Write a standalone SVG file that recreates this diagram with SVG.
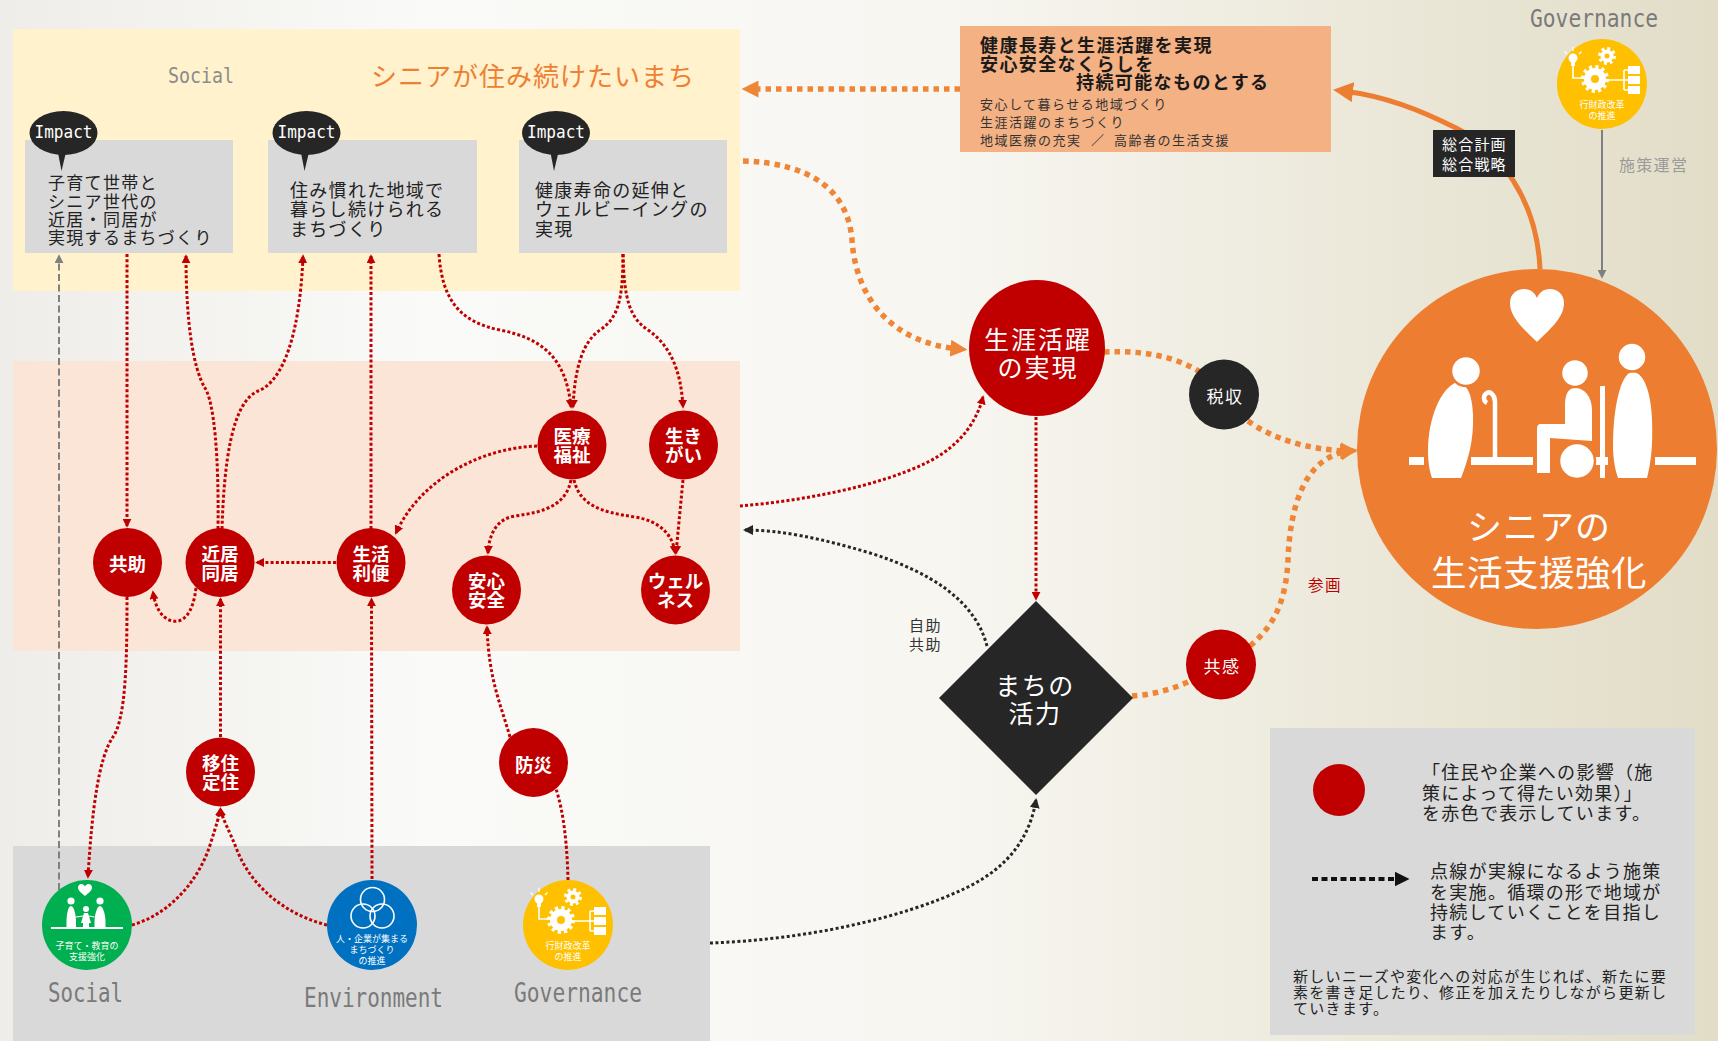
<svg xmlns="http://www.w3.org/2000/svg" width="1718" height="1041" viewBox="0 0 1718 1041">
<defs>
  <style>
    .jp { font-family: "Noto Sans CJK JP", "Noto Sans", sans-serif; }
    .mono { font-family: "DejaVu Sans Mono", monospace; }
    .red-dot { fill: none; stroke: #c00000; stroke-width: 3; stroke-dasharray: 3 2.2; }
    .org-dot { fill: none; stroke: #ef8637; stroke-width: 5.5; stroke-dasharray: 5.5 5; }
    .blk-dot { fill: none; stroke: #262626; stroke-width: 3; stroke-dasharray: 3 2.5; }
    .gray-dash { fill: none; stroke: #808080; stroke-width: 2; stroke-dasharray: 7 3.5; }
    .red-node { fill: #c00000; }
    .dark-node { fill: #262626; }
    .lbl { font-family: "Noto Sans CJK JP", "Noto Sans", sans-serif; fill: #fff; text-anchor: middle; }
    .box { fill: #d9d9d9; }
    .bubble { fill: #262626; }
    .imp { font-family: "DejaVu Sans Mono", monospace; fill: #fff; font-size: 17.5px; text-anchor: middle; }
    .itext { font-family: "Noto Sans CJK JP", "Noto Sans", sans-serif; fill: #222; letter-spacing: 1.3px; }
    .sec { font-family: "DejaVu Sans Mono", monospace; fill: #7a7a7a; text-anchor: middle; }
    .badge-text { font-family: "Noto Sans CJK JP", "Noto Sans", sans-serif; fill: #fff; font-size: 9px; text-anchor: middle; }
    .leg { font-family: "Noto Sans CJK JP", "Noto Sans", sans-serif; fill: #222; }
  </style>

  <linearGradient id="bg" x1="0" y1="0" x2="1" y2="0">
    <stop offset="0" stop-color="#eeede9"/>
    <stop offset="0.25" stop-color="#fafaf8"/>
    <stop offset="0.55" stop-color="#f7f6f1"/>
    <stop offset="1" stop-color="#e2ddc7"/>
  </linearGradient>

  <marker id="ah-red" viewBox="0 0 10 10" refX="8" refY="5" markerWidth="9" markerHeight="9" markerUnits="userSpaceOnUse" orient="auto">
    <path d="M0,0 L10,5 L0,10 z" fill="#c00000"/>
  </marker>
  <marker id="ah-blk" viewBox="0 0 10 10" refX="8" refY="5" markerWidth="10" markerHeight="10" markerUnits="userSpaceOnUse" orient="auto">
    <path d="M0,0 L10,5 L0,10 z" fill="#262626"/>
  </marker>
  <marker id="ah-gray" viewBox="0 0 10 10" refX="8" refY="5" markerWidth="9" markerHeight="9" markerUnits="userSpaceOnUse" orient="auto">
    <path d="M0,0 L10,5 L0,10 z" fill="#808080"/>
  </marker>
  <marker id="ah-org" viewBox="0 0 10 10" refX="5" refY="5" markerWidth="17" markerHeight="17" markerUnits="userSpaceOnUse" orient="auto">
    <path d="M0,0 L10,5 L0,10 z" fill="#ef8637"/>
  </marker>
  <marker id="ah-org-solid" viewBox="0 0 10 10" refX="5" refY="5" markerWidth="20" markerHeight="20" markerUnits="userSpaceOnUse" orient="auto">
    <path d="M0,0 L10,5 L0,10 z" fill="#ed7d31"/>
  </marker>
  <marker id="ah-legend" viewBox="0 0 10 10" refX="5" refY="5" markerWidth="15" markerHeight="15" markerUnits="userSpaceOnUse" orient="auto">
    <path d="M0,0 L10,5 L0,10 z" fill="#111"/>
  </marker>

  <!-- governance badge: bulb, gears and org chart on a yellow disc -->
  <g id="gov-badge">
    <circle r="45" fill="#ffc000"/>
    <g fill="#fff">
      <circle cx="-29" cy="-26" r="4.5"/>
      <rect x="-31" y="-23" width="4" height="5"/>
    </g>
    <g stroke="#fff" stroke-width="1.3" fill="none">
      <path d="M-29,-33 L-29,-37 M-35,-30 L-37.5,-32.5 M-23,-30 L-20.5,-32.5"/>
      <path d="M-29,-18 L-29,-6 L-18,-6" stroke-width="1.6"/>
      <path d="M4,-4 L22,-4 M22,-14 L22,6 M22,-14 L26,-14 M22,-4 L26,-4 M22,6 L26,6" stroke-width="1.6"/>
    </g>
    <circle cx="-7" cy="-5" r="7.5" fill="none" stroke="#fff" stroke-width="7"/>
    <circle cx="-7" cy="-5" r="12" fill="none" stroke="#fff" stroke-width="4" stroke-dasharray="3.14 3.14"/>
    <circle cx="5" cy="-28" r="4.5" fill="none" stroke="#fff" stroke-width="4"/>
    <circle cx="5" cy="-28" r="7.5" fill="none" stroke="#fff" stroke-width="3" stroke-dasharray="2.95 2.95"/>
    <g fill="#fff">
      <rect x="26" y="-18" width="12" height="8"/>
      <rect x="26" y="-8" width="12" height="8"/>
      <rect x="26" y="2" width="12" height="8"/>
    </g>
    <text class="badge-text" x="0" y="24">行財政改革</text>
    <text class="badge-text" x="0" y="35">の推進</text>
  </g>
</defs>

<!-- background -->
<rect width="1718" height="1041" fill="url(#bg)"/>

<!-- layer bands -->
<g id="bands">
  <rect x="13" y="29" width="727" height="262" fill="#fff2cc"/>
  <rect x="13" y="361" width="727" height="290" fill="#fbe5d6"/>
  <rect x="13" y="846" width="697" height="195" fill="#d9d9d9"/>
</g>

<!-- section headings -->
<g id="headings">
  <text class="mono" x="201" y="83" font-size="22" fill="#8c8c8c" text-anchor="middle" textLength="66" lengthAdjust="spacingAndGlyphs">Social</text>
  <text class="jp" x="371" y="86" font-size="26" letter-spacing="1" fill="#ee8033">シニアが住み続けたいまち</text>
  <text class="sec" x="85.5" y="1002" font-size="27" textLength="75" lengthAdjust="spacingAndGlyphs">Social</text>
  <text class="sec" x="373.5" y="1007" font-size="27" textLength="139" lengthAdjust="spacingAndGlyphs">Environment</text>
  <text class="sec" x="578" y="1002" font-size="27" textLength="128" lengthAdjust="spacingAndGlyphs">Governance</text>
  <text class="sec" x="1594" y="27" font-size="25" textLength="128" lengthAdjust="spacingAndGlyphs">Governance</text>
</g>

<!-- connectors -->
<g id="connectors">
  <!-- red: effect links -->
  <path class="red-dot" d="M127,254 L127,526" marker-end="url(#ah-red)"/>
  <path class="red-dot" d="M218,529 C219,455 214,402 205,388 C193,368 186,322 186,256" marker-end="url(#ah-red)"/>
  <path class="red-dot" d="M222,529 C224,462 232,402 258,391 C284,381 300,332 303,256" marker-end="url(#ah-red)"/>
  <path class="red-dot" d="M371,529 L371,256" marker-end="url(#ah-red)"/>
  <path class="red-dot" d="M439,254 C442,300 460,322 500,330 C540,338 566,356 571,407" marker-end="url(#ah-red)"/>
  <path class="red-dot" d="M623,254 C623,300 618,318 600,330 C583,342 575,366 573,407" marker-end="url(#ah-red)"/>
  <path class="red-dot" d="M623,254 C624,300 630,318 648,330 C670,345 681,370 683,407" marker-end="url(#ah-red)"/>
  <path class="red-dot" d="M537,446 C480,448 420,480 396,533" marker-end="url(#ah-red)"/>
  <path class="red-dot" d="M571,480 C566,505 545,512 515,516 C496,519 489,535 488,553" marker-end="url(#ah-red)"/>
  <path class="red-dot" d="M574,480 C580,505 600,512 635,517 C660,521 673,535 675,553" marker-end="url(#ah-red)"/>
  <path class="red-dot" d="M683,480 L676,553" marker-end="url(#ah-red)"/>
  <path class="red-dot" d="M336,562.5 L257,562.5" marker-end="url(#ah-red)"/>
  <path class="red-dot" d="M196,588 C193,614 183,623 173,621 C161,619 155,606 153,592" marker-end="url(#ah-red)"/>
  <path class="red-dot" d="M127,597 C127,660 126,718 113,737 C99,757 92,808 88,877" marker-end="url(#ah-red)"/>
  <path class="red-dot" d="M220.5,737 L220.5,599" marker-end="url(#ah-red)"/>
  <path class="red-dot" d="M132,925 C168,915 199,882 211,842 C216,826 219.5,815 220.5,809" marker-end="url(#ah-red)"/>
  <path class="red-dot" d="M327,925 C287,915 252,888 237,850 C230,832 222,818 220.5,809" marker-end="url(#ah-red)"/>
  <path class="red-dot" d="M372,879 L371.5,599" marker-end="url(#ah-red)"/>
  <path class="red-dot" d="M568,880 C567,840 563,810 556,789"/>
  <path class="red-dot" d="M510,737 C500,702 489,680 487,627" marker-end="url(#ah-red)"/>
  <path class="red-dot" d="M740,506 C800,501 878,487 928,462 C958,447 976,424 983,397" marker-end="url(#ah-red)"/>
  <path class="red-dot" d="M1036,417 L1036,599" marker-end="url(#ah-red)"/>

  <!-- black: self-help / mutual-help loop -->
  <path class="blk-dot" d="M987,646 C975,600 930,572 870,553 C820,538 780,530 745,530" marker-end="url(#ah-blk)"/>
  <path class="blk-dot" d="M710,943 C800,940 900,920 968,887 C1010,866 1030,836 1036,800" marker-end="url(#ah-blk)"/>

  <!-- grey -->
  <path class="gray-dash" d="M59,890 L59,256" marker-end="url(#ah-gray)"/>
  <path d="M1602,130 L1602,277" fill="none" stroke="#808080" stroke-width="2" marker-end="url(#ah-gray)"/>

  <!-- orange: senior support cycle -->
  <path class="org-dot" d="M960,89 L750,89" marker-end="url(#ah-org)"/>
  <path class="org-dot" d="M743,161 C810,163 848,190 852,240 C856,300 893,343 959,349" marker-end="url(#ah-org)"/>
  <path class="org-dot" d="M1104,352 C1140,350 1175,356 1200,372"/>
  <path class="org-dot" d="M1248,421 C1270,437 1305,450 1349,451" marker-end="url(#ah-org)"/>
  <path class="org-dot" d="M1132,696 C1150,695 1170,690 1188,682"/>
  <path class="org-dot" d="M1250,646 C1275,625 1286,600 1288,560 C1290,505 1305,457 1349,451" marker-end="url(#ah-org)"/>
  <path d="M1540,269 C1537,200 1500,150 1456,128 C1420,110 1385,96 1343,91" fill="none" stroke="#ed7d31" stroke-width="5" marker-end="url(#ah-org-solid)"/>
</g>

<!-- nodes -->
<g id="nodes">
  <g id="impact-1">
    <rect class="box" x="25" y="140" width="208" height="113"/>
    <ellipse class="bubble" cx="63.5" cy="133" rx="34" ry="22"/>
    <polygon class="bubble" points="57.5,150 66.5,150 61.5,171"/>
    <text class="imp" x="63.5" y="138" textLength="58" lengthAdjust="spacingAndGlyphs">Impact</text>
    <text class="itext" style="font-size:17px">
      <tspan x="48" y="189">子育て世帯と</tspan>
      <tspan x="48" y="207.5">シニア世代の</tspan>
      <tspan x="48" y="226">近居・同居が</tspan>
      <tspan x="48" y="244">実現するまちづくり</tspan>
    </text>
  </g>
  <g id="impact-2">
    <rect class="box" x="268" y="140" width="209" height="113"/>
    <ellipse class="bubble" cx="306.5" cy="133" rx="34" ry="22"/>
    <polygon class="bubble" points="300.5,150 309.5,150 304.5,171"/>
    <text class="imp" x="306.5" y="138" textLength="58" lengthAdjust="spacingAndGlyphs">Impact</text>
    <text class="itext" style="font-size:18px">
      <tspan x="290" y="196.5">住み慣れた地域で</tspan>
      <tspan x="290" y="216">暮らし続けられる</tspan>
      <tspan x="290" y="235.5">まちづくり</tspan>
    </text>
  </g>
  <g id="impact-3">
    <rect class="box" x="519" y="140" width="208" height="113"/>
    <ellipse class="bubble" cx="556" cy="133" rx="34" ry="22"/>
    <polygon class="bubble" points="550,150 559,150 554,171"/>
    <text class="imp" x="556" y="138" textLength="58" lengthAdjust="spacingAndGlyphs">Impact</text>
    <text class="itext" style="font-size:18px">
      <tspan x="535" y="196.5">健康寿命の延伸と</tspan>
      <tspan x="535" y="216">ウェルビーイングの</tspan>
      <tspan x="535" y="235.5">実現</tspan>
    </text>
  </g>

  <g id="kyojo">
    <circle class="red-node" cx="127.5" cy="562.5" r="34.5"/>
    <text class="lbl" x="127.5" y="570.5" font-size="18.5" font-weight="bold">共助</text>
  </g>
  <g id="kinkyo">
    <circle class="red-node" cx="220" cy="562.5" r="34.5"/>
    <text class="lbl" font-size="18.5" font-weight="bold"><tspan x="220" y="560.5">近居</tspan><tspan x="220" y="579.5">同居</tspan></text>
  </g>
  <g id="riben">
    <circle class="red-node" cx="371" cy="562.5" r="34.5"/>
    <text class="lbl" font-size="18.5" font-weight="bold"><tspan x="371" y="560.5">生活</tspan><tspan x="371" y="579.5">利便</tspan></text>
  </g>
  <g id="iryo">
    <circle class="red-node" cx="572" cy="445" r="34.5"/>
    <text class="lbl" font-size="18.5" font-weight="bold"><tspan x="572" y="443">医療</tspan><tspan x="572" y="462">福祉</tspan></text>
  </g>
  <g id="ikigai">
    <circle class="red-node" cx="683.5" cy="445" r="34.5"/>
    <text class="lbl" font-size="18.5" font-weight="bold"><tspan x="683.5" y="443">生き</tspan><tspan x="683.5" y="462">がい</tspan></text>
  </g>
  <g id="anshin">
    <circle class="red-node" cx="486.5" cy="590" r="34.5"/>
    <text class="lbl" font-size="18.5" font-weight="bold"><tspan x="486.5" y="588">安心</tspan><tspan x="486.5" y="607">安全</tspan></text>
  </g>
  <g id="wellness">
    <circle class="red-node" cx="675.5" cy="590" r="34.5"/>
    <text class="lbl" font-size="18.5" font-weight="bold"><tspan x="675.5" y="588">ウェル</tspan><tspan x="675.5" y="607">ネス</tspan></text>
  </g>
  <g id="iju">
    <circle class="red-node" cx="220.5" cy="772" r="34.5"/>
    <text class="lbl" font-size="18.5" font-weight="bold"><tspan x="220.5" y="770">移住</tspan><tspan x="220.5" y="789">定住</tspan></text>
  </g>
  <g id="bosai">
    <circle class="red-node" cx="533.5" cy="762.5" r="34.5"/>
    <text class="lbl" x="533.5" y="771.5" font-size="18.5" font-weight="bold">防災</text>
  </g>

  <g id="social-policy" transform="translate(87,925)">
    <circle r="45" fill="#00b050"/>
    <g fill="#fff">
      <path d="M-2,-29 C-5,-32 -9,-34 -9,-37.5 C-9,-40 -7,-41 -5.5,-41 C-4,-41 -2.7,-40 -2,-38.5 C-1.3,-40 0,-41 1.5,-41 C3,-41 5,-40 5,-37.5 C5,-34 1,-32 -2,-29 Z"/>
      <circle cx="-16" cy="-24" r="3.6"/>
      <path d="M-16,-19 C-19,-19 -20.5,-10 -20.5,-3 L-20.5,3 L-11,3 L-11,-3 C-11,-10 -13,-19 -16,-19 Z"/>
      <circle cx="13" cy="-24" r="3.6"/>
      <path d="M13,-19 C10,-19 7.5,-10 7.5,-3 L7.5,3 L18.5,3 L18.5,-3 C18.5,-10 16,-19 13,-19 Z"/>
      <circle cx="-1" cy="-16" r="3"/>
      <path d="M-3,-12 L1,-12 L4,-2 L2,-2 L2,3 L-4,3 L-4,-2 L-6,-2 Z"/>
      <rect x="-36" y="2" width="72" height="2"/>
    </g>
    <path d="M-11,-8 L-4,-9 M2,-9 L7.5,-8" stroke="#fff" stroke-width="1.2"/>
    <text class="badge-text" x="0" y="24">子育て・教育の</text>
    <text class="badge-text" x="0" y="35">支援強化</text>
  </g>
  <g id="environment-policy" transform="translate(372,925)">
    <circle r="45" fill="#0070c0"/>
    <g fill="none" stroke="#fff" stroke-width="1.6">
      <circle cx="0.5" cy="-25.5" r="12"/>
      <circle cx="-9" cy="-9" r="12"/>
      <circle cx="10" cy="-9" r="12"/>
    </g>
    <text class="badge-text" x="0" y="17">人・企業が集まる</text>
    <text class="badge-text" x="0" y="28">まちづくり</text>
    <text class="badge-text" x="0" y="39">の推進</text>
  </g>
  <g id="governance-policy">
    <use href="#gov-badge" x="568" y="925"/>
  </g>
  <g id="governance-top">
    <use href="#gov-badge" x="1602" y="84"/>
  </g>

  <g id="vision">
    <rect x="960" y="26" width="371" height="126" fill="#f4b183"/>
    <g class="jp" fill="#1a1a1a" font-size="18" letter-spacing="1.4" font-weight="bold">
      <text x="980" y="51.5">健康長寿と生涯活躍を実現</text>
      <text x="980" y="70.5">安心安全なくらしを</text>
      <text x="1076" y="89">持続可能なものとする</text>
    </g>
    <g class="jp" fill="#333" font-size="13" letter-spacing="1.5">
      <text x="980" y="108.5">安心して暮らせる地域づくり</text>
      <text x="980" y="126.5">生涯活躍のまちづくり</text>
      <text x="980" y="144.5">地域医療の充実<tspan x="1091">／</tspan><tspan x="1114">高齢者の生活支援</tspan></text>
    </g>
  </g>

  <g id="plan-label">
    <rect x="1433" y="130" width="82" height="47" fill="#262626"/>
    <text class="jp" fill="#fff" font-size="15" letter-spacing="1.2"><tspan x="1442" y="150">総合計画</tspan><tspan x="1442" y="170">総合戦略</tspan></text>
  </g>
  <text id="ops-label" class="jp" x="1619" y="171" font-size="16" letter-spacing="1.3" fill="#9a9a9a">施策運営</text>

  <g id="shogai">
    <circle class="red-node" cx="1037" cy="348" r="68"/>
    <text class="lbl" font-size="25" letter-spacing="2"><tspan x="1038" y="349">生涯活躍</tspan><tspan x="1038" y="377">の実現</tspan></text>
  </g>
  <g id="zeishu">
    <circle class="dark-node" cx="1224" cy="394.5" r="35"/>
    <text class="lbl" x="1225" y="402.5" font-size="17" letter-spacing="1.5">税収</text>
  </g>
  <g id="kyokan">
    <circle class="red-node" cx="1221" cy="664.5" r="35"/>
    <text class="lbl" x="1222" y="672.5" font-size="17" letter-spacing="1.5">共感</text>
  </g>
  <g id="machi">
    <polygon class="dark-node" points="1036,601 1133,698 1036,795 939,698"/>
    <text class="lbl" font-size="25" letter-spacing="1.5"><tspan x="1035" y="695">まちの</tspan><tspan x="1035" y="723">活力</tspan></text>
  </g>
  <text class="jp" fill="#333" font-size="15" letter-spacing="1.5"><tspan x="909" y="631">自助</tspan><tspan x="909" y="650">共助</tspan></text>
  <text class="jp" x="1308" y="591" fill="#c00000" font-size="15.5" letter-spacing="1.5">参画</text>

  <g id="senior-support">
    <circle cx="1537" cy="449" r="180" fill="#ed7d31"/>
    <g fill="#fff">
      <path d="M1537,342 C1525,330 1510,318 1510,303 C1510,293 1518,289 1524,289 C1531,289 1535,293 1537,298 C1539,293 1543,289 1550,289 C1556,289 1564,293 1564,303 C1564,318 1549,330 1537,342 Z"/>
      <rect x="1409" y="457" width="15" height="8"/>
      <rect x="1471" y="457" width="62" height="8"/>
      <rect x="1595" y="457" width="13" height="8"/>
      <rect x="1655" y="457" width="41" height="8"/>
      <path d="M1457,382 C1440,388 1428,420 1428,450 C1428,465 1430,472 1432,478 L1461,478 C1468,460 1474,440 1473,415 C1472,395 1468,384 1457,382 Z"/>
      <path d="M1632,372 C1620,374 1613,410 1613,445 C1613,462 1616,472 1618,478 L1647,478 C1651,462 1653,445 1652,420 C1651,395 1645,372 1632,372 Z"/>
      <path d="M1575,388 C1568,388 1565,395 1565,405 L1565,424 L1541,424 C1538,424 1537,426 1537,429 L1537,473 L1550,473 L1550,438 L1592,441 L1592,410 C1592,396 1584,388 1575,388 Z"/>
      <rect x="1600" y="386" width="5" height="92"/>
    </g>
    <g fill="#fff" stroke="#ed7d31" stroke-width="2.5">
      <circle cx="1466" cy="371" r="15"/>
      <circle cx="1575" cy="373" r="14"/>
      <circle cx="1632" cy="357" r="14.5"/>
      <circle cx="1577" cy="461" r="18"/>
    </g>
    <path d="M1495,457 L1495,402 C1495,395 1490,391 1487,393 C1483,395 1483,401 1487,403" fill="none" stroke="#fff" stroke-width="4.5"/>
    <text class="lbl" x="1539" y="540" font-size="35" letter-spacing="1">シニアの</text>
    <text class="lbl" x="1539" y="586" font-size="35.5" letter-spacing="0.5">生活支援強化</text>
  </g>
</g>

<!-- legend -->
<g id="legend">
  <rect x="1270" y="728" width="425" height="307" fill="#d9d9d9"/>
  <circle cx="1339" cy="790" r="26" fill="#c00000"/>
  <text class="leg" font-size="18" letter-spacing="1.3"><tspan x="1422" y="779">「住民や企業への影響（施</tspan><tspan x="1422" y="799.5">策によって得たい効果）」</tspan><tspan x="1422" y="820">を赤色で表示しています。</tspan></text>
  <path d="M1312,879 L1402,879" fill="none" stroke="#111" stroke-width="4" stroke-dasharray="6 3.5" marker-end="url(#ah-legend)"/>
  <text class="leg" font-size="18" letter-spacing="1.3"><tspan x="1430" y="878">点線が実線になるよう施策</tspan><tspan x="1430" y="898.5">を実施。循環の形で地域が</tspan><tspan x="1430" y="918.5">持続していくことを目指し</tspan><tspan x="1430" y="938.5">ます。</tspan></text>
  <text class="leg" font-size="15" letter-spacing="1.3"><tspan x="1293" y="982">新しいニーズや変化への対応が生じれば、新たに要</tspan><tspan x="1293" y="998">素を書き足したり、修正を加えたりしながら更新し</tspan><tspan x="1293" y="1013.5">ていきます。</tspan></text>
</g>
</svg>
